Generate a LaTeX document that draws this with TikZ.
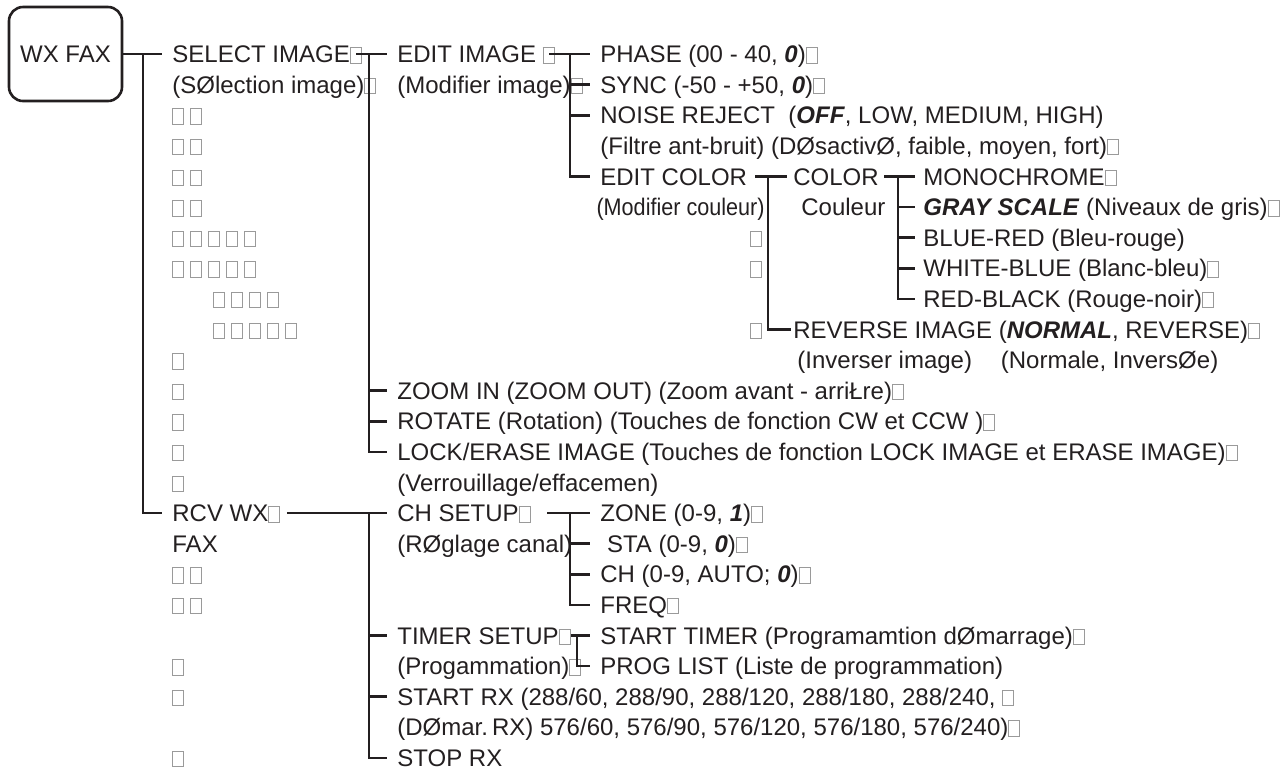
\documentclass[tikz,border=0pt]{standalone}
\usepackage{fontspec}
\setmainfont{Liberation Sans}
\definecolor{ink}{HTML}{231F20}
\definecolor{tofugray}{HTML}{9A9A9A}
% missing-glyph box, as printed in the menu chart
\newcommand\tofu{\textcolor{tofugray}{\fboxsep=0pt\fboxrule=0.5pt\fbox{\vrule width0pt height7.2pt\kern5pt}}\kern3pt}
\newcommand\bi[1]{\textbf{\textit{#1}}}
\tikzset{
  item/.style={anchor=west, inner sep=0pt, text height=8.6pt, text depth=0pt,
    font=\fontsize{12}{14}\selectfont, text=ink},
  link/.style={line width=1.3pt, draw=ink},
}
\begin{document}
\begin{tikzpicture}[x=0.5pt, y=-15.3pt]
    \useasboundingbox (0,-1.765) rectangle (1287,23.431);

    % Root box
    \node[draw=ink, line width=1.3pt, rounded corners=7pt, minimum width=56.5pt,
      minimum height=47pt, font=\fontsize{12}{14}\selectfont, text=ink] (root) at (65.5,0) {WX FAX};

    % Column 1
    \node[item] (sel) at (172,0) {SELECT IMAGE\tofu};
    \node[item] (selfr) at (172,1) {(SØlection image)\tofu};
    \foreach \r in {2,...,5}
        \node[item] (l\r) at (172,\r) {\tofu\tofu};
    \foreach \r in {6,7}
        \node[item] (l\r) at (172,\r) {\tofu\tofu\tofu\tofu\tofu};
    \node[item] (l8) at (213,8) {\tofu\tofu\tofu\tofu};
    \node[item] (l9) at (213,9) {\tofu\tofu\tofu\tofu\tofu};
    \foreach \r in {10,...,14}
        \node[item] (l\r) at (172,\r) {\tofu};
    \node[item] (rcv) at (172,15) {RCV WX\tofu};
    \node[item] (rcvfax) at (172,16) {FAX};
    \foreach \r in {17,18}
        \node[item] (l\r) at (172,\r) {\tofu\tofu};
    \foreach \r in {20,21,23}
        \node[item] (l\r) at (172,\r) {\tofu};

    % Column 2
    \node[item] (edit) at (397,0) {EDIT IMAGE \tofu};
    \node[item] (editfr) at (397,1) {(Modifier image)\tofu};
    \node[item] (zoom) at (397,11) {ZOOM IN (ZOOM OUT) (Zoom avant - arriŁre)\tofu};
    \node[item] (rot) at (397,12) {ROTATE (Rotation) (Touches de fonction CW et CCW )\tofu};
    \node[item] (lock) at (397,13) {LOCK/ERASE IMAGE (Touches de fonction LOCK IMAGE et ERASE IMAGE)\tofu};
    \node[item] (lockfr) at (397,14) {(Verrouillage/effacemen)};
    \node[item] (ch) at (397,15) {CH SETUP\tofu};
    \node[item] (chfr) at (397,16) {(RØglage canal)};
    \node[item] (timer) at (397,19) {TIMER SETUP\tofu};
    \node[item] (timerfr) at (397,20) {(Progammation)\tofu};
    \node[item] (start) at (397,21) {START RX (288/60, 288/90, 288/120, 288/180, 288/240, \tofu};
    \node[item] (startfr) at (397,22) {(DØmar.\,RX) 576/60, 576/90, 576/120, 576/180, 576/240)\tofu};
    \node[item] (stop) at (397,23) {STOP RX};

    % Column 3
    \node[item] (phase) at (600,0) {PHASE (00 - 40, \bi{0})\tofu};
    \node[item] (sync) at (600,1) {SYNC (-50 - +50, \bi{0})\tofu};
    \node[item] (noise) at (600,2) {NOISE REJECT\ \ (\bi{OFF}, LOW, MEDIUM, HIGH)};
    \node[item] (noisefr) at (600,3) {(Filtre ant-bruit) (DØsactivØ, faible, moyen, fort)\tofu};
    \node[item] (ecol) at (600,4) {EDIT COLOR};
    \node[item, anchor=east] (ecolfr) at (765,5) {\scalebox{0.9}[1]{(Modifier couleur)}};
    \foreach \r in {6,7,9}
        \node[item] (t\r) at (750,\r) {\tofu};
    \node[item] (zone) at (600,15) {ZONE (0-9, \bi{1})\tofu};
    \node[item] (sta) at (600,16) {\ STA (0-9, \bi{0})\tofu};
    \node[item] (chn) at (600,17) {CH (0-9, AUTO; \bi{0})\tofu};
    \node[item] (freq) at (600,18) {FREQ\tofu};
    \node[item] (stimer) at (600,19) {START TIMER (Programamtion dØmarrage)\tofu};
    \node[item] (plist) at (600,20) {PROG LIST (Liste de programmation)};

    % Column 4 (colour)
    \node[item] (color) at (793,4) {COLOR};
    \node[item] (colorfr) at (801,5) {Couleur};
    \node[item] (rev) at (793,9) {REVERSE IMAGE (\bi{NORMAL}, REVERSE)\tofu};
    \node[item] (revfr) at (797,10) {(Inverser image)\hspace{1.2em}(Normale, InversØe)};

    % Column 5
    \node[item] (mono) at (923,4) {MONOCHROME\tofu};
    \node[item] (gray) at (923,5) {\bi{GRAY SCALE} (Niveaux de gris)\tofu};
    \node[item] (bluered) at (923,6) {BLUE-RED (Bleu-rouge)};
    \node[item] (whiteblue) at (923,7) {WHITE-BLUE (Blanc-bleu)\tofu};
    \node[item] (redblack) at (923,8) {RED-BLACK (Rouge-noir)\tofu};

    % Junctions
    \coordinate (j0) at (143,0);
    \coordinate (j1) at (369,0);
    \coordinate (j2) at (570,0);
    \coordinate (j3) at (768,4);
    \coordinate (j4) at (898,4);
    \coordinate (j5) at (570,15);
    \coordinate (j6) at (577,19);
    \coordinate (j7) at (369,15);

    % Links
    \draw[link] (root.east) -- ([xshift=-5pt]sel.west);
    \draw[link] (j0) |- ([xshift=-5pt]rcv.west);

    \draw[link] ([xshift=-6pt]sel.east) -- ([xshift=-5pt]edit.west);
    \foreach \n in {zoom,rot,lock}
        \draw[link] (j1) |- ([xshift=-5pt]\n.west);

    \draw[link] ([xshift=-6pt]edit.east) -- ([xshift=-5pt]phase.west);
    \foreach \n in {sync,noise,ecol}
        \draw[link] (j2) |- ([xshift=-5pt]\n.west);

    \draw[link] ([xshift=4pt]ecol.east) -- ([xshift=-3pt]color.west);
    \draw[link] (j3) |- ([xshift=-1pt]rev.west);

    \draw[link] ([xshift=2.5pt]color.east) -- ([xshift=-4pt]mono.west);
    \foreach \n in {gray,bluered,whiteblue,redblack}
        \draw[link] (j4) |- ([xshift=-4pt]\n.west);

    \draw[link] (rcv.east) -- ([xshift=-5pt]ch.west);
    \foreach \n in {timer,start,stop}
        \draw[link] (j7) |- ([xshift=-5pt]\n.west);

    \draw[link] ([xshift=5pt]ch.east) -- ([xshift=-5pt]zone.west);
    \foreach \n in {sta,chn,freq}
        \draw[link] (j5) |- ([xshift=-5pt]\n.west);

    \draw[link] ([xshift=-3pt]timer.east) -- ([xshift=-5pt]stimer.west);
    \draw[link] (j6) |- ([xshift=-5pt]plist.west);
\end{tikzpicture}
\end{document}
